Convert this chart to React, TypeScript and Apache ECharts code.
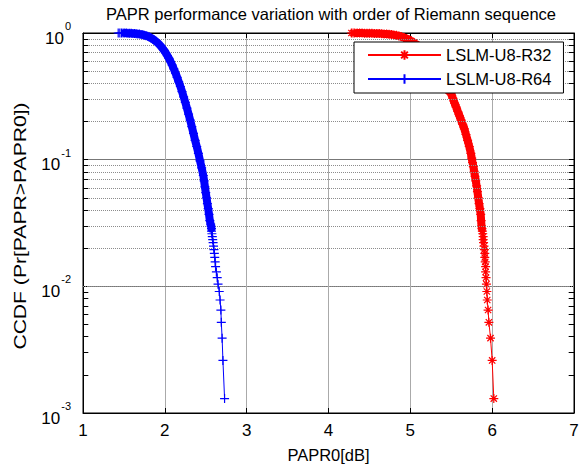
import React, { useEffect, useRef } from "react";
import * as echarts from "echarts";

// LSLM-U8-R32 (red, '*')
const r32X = [4.28, 4.3, 4.32, 4.35, 4.38, 4.41, 4.44, 4.47, 4.5, 4.53, 4.56, 4.59, 4.62, 4.65, 4.68, 4.71, 4.74, 4.77, 4.8, 4.83, 4.86, 4.89, 4.92, 4.95, 4.98, 5.01, 5.04, 5.07, 5.1, 5.13, 5.16, 5.19, 5.22, 5.25, 5.28, 5.31, 5.34, 5.37, 5.4, 5.43, 5.47, 5.5, 5.52, 5.54, 5.56, 5.58, 5.6, 5.62, 5.64, 5.66, 5.68, 5.7, 5.72, 5.74, 5.75, 5.76, 5.77, 5.78, 5.79, 5.8, 5.81, 5.82, 5.83, 5.84, 5.85, 5.86, 5.865, 5.87, 5.875, 5.88, 5.885, 5.89, 5.89, 5.895, 5.9, 5.905, 5.91, 5.91, 5.915, 5.92, 5.92, 5.925, 5.93, 5.935, 5.94, 5.95, 5.96, 5.98, 6.0, 6.02];
const r32Y = [1.0, 1.0, 0.999, 0.999, 0.998, 0.998, 0.997, 0.996, 0.995, 0.994, 0.993, 0.991, 0.989, 0.987, 0.984, 0.981, 0.977, 0.972, 0.966, 0.958, 0.948, 0.936, 0.922, 0.905, 0.886, 0.865, 0.842, 0.815, 0.785, 0.752, 0.716, 0.678, 0.638, 0.597, 0.556, 0.515, 0.475, 0.437, 0.4, 0.367, 0.35, 0.33, 0.305, 0.28, 0.26, 0.24, 0.222, 0.205, 0.19, 0.175, 0.158, 0.142, 0.127, 0.112, 0.103, 0.095, 0.088, 0.081, 0.074, 0.068, 0.062, 0.056, 0.05, 0.045, 0.041, 0.037, 0.033, 0.0299, 0.0286, 0.0273, 0.026, 0.0247, 0.0234, 0.0221, 0.0208, 0.0195, 0.0182, 0.0169, 0.0156, 0.0143, 0.013, 0.0117, 0.0104, 0.0091, 0.0078, 0.0065, 0.0052, 0.0039, 0.0026, 0.0013];

// LSLM-U8-R64 (blue, '+')
const r64X = [1.43, 1.45, 1.47, 1.49, 1.51, 1.53, 1.55, 1.57, 1.59, 1.61, 1.63, 1.65, 1.67, 1.69, 1.71, 1.73, 1.75, 1.77, 1.79, 1.81, 1.83, 1.85, 1.87, 1.89, 1.91, 1.93, 1.95, 1.97, 1.99, 2.01, 2.03, 2.05, 2.07, 2.09, 2.11, 2.13, 2.15, 2.17, 2.19, 2.21, 2.23, 2.25, 2.27, 2.29, 2.31, 2.33, 2.35, 2.37, 2.39, 2.41, 2.43, 2.45, 2.47, 2.48, 2.49, 2.5, 2.51, 2.52, 2.53, 2.54, 2.55, 2.56, 2.565, 2.57, 2.57, 2.575, 2.58, 2.585, 2.59, 2.595, 2.6, 2.605, 2.61, 2.615, 2.62, 2.63, 2.64, 2.65, 2.665, 2.675, 2.685, 2.69, 2.7, 2.71, 2.73];
const r64Y = [1.0, 1.0, 0.999, 0.999, 0.998, 0.998, 0.997, 0.996, 0.994, 0.992, 0.99, 0.987, 0.984, 0.98, 0.975, 0.969, 0.962, 0.953, 0.943, 0.93, 0.915, 0.898, 0.88, 0.86, 0.838, 0.814, 0.788, 0.76, 0.73, 0.698, 0.664, 0.63, 0.594, 0.557, 0.52, 0.483, 0.447, 0.412, 0.378, 0.345, 0.313, 0.283, 0.255, 0.229, 0.205, 0.182, 0.161, 0.142, 0.127, 0.112, 0.098, 0.086, 0.075, 0.068, 0.061, 0.055, 0.05, 0.045, 0.041, 0.037, 0.033, 0.031, 0.0299, 0.0286, 0.0273, 0.026, 0.0247, 0.0234, 0.0221, 0.0208, 0.0195, 0.0182, 0.0169, 0.0156, 0.0143, 0.013, 0.0117, 0.0104, 0.0091, 0.0078, 0.0065, 0.0052, 0.0039, 0.0026, 0.0013];

// where markers overlap into a solid band (lower CCDF bound, left x bound)
const r32DenseFrom = { x: 4.35, y: 0.028 };
const r64DenseFrom = { x: 1.5, y: 0.028 };

const xTicks = [1, 2, 3, 4, 5, 6, 7];
const yDecades = [0.001, 0.01, 0.1, 1];
const minorGridValues = [
  0.002, 0.003, 0.004, 0.005, 0.006, 0.007, 0.008, 0.009,
  0.02, 0.03, 0.04, 0.05, 0.06, 0.07, 0.08, 0.09,
  0.2, 0.3, 0.4, 0.5, 0.6, 0.7, 0.8, 0.9,
];

const titleText = "PAPR performance variation with order of Riemann sequence";
const xName = "PAPR0[dB]";
const yName = "CCDF (Pr[PAPR>PAPR0])";
const seriesNames = ["LSLM-U8-R32", "LSLM-U8-R64"];

const FONT = "Liberation Sans, Arial, sans-serif";
const PLUS = "path://M0,-5L0,5M-5,0L5,0";
const STAR = "path://M0,-5L0,5M-5,0L5,0M-3.5,-3.5L3.5,3.5M-3.5,3.5L3.5,-3.5";

export default function App() {
  const ref = useRef<HTMLDivElement>(null);
  useEffect(() => {
    if (!ref.current) return;
    const chart = echarts.init(ref.current, undefined, { renderer: "svg" });
    const pair = (xs: number[], ys: number[]) => xs.map((x, i) => [x, ys[i]]);
    const dense = (xs: number[], ys: number[], from: { x: number; y: number }) =>
      pair(xs, ys).filter(([x, y]) => x >= from.x && y >= from.y);
    const supLabel = (v: number) => {
      const e = Math.round(Math.log10(v));
      return `{b|10}{s|${e}}`;
    };
    const xMin = xTicks[0];
    const xMax = xTicks[xTicks.length - 1];
    const tickLen = 0.065; // in x units, ~5px
    const minorTicks: any[] = [];
    minorGridValues.forEach((v) => {
      minorTicks.push([{ coord: [xMin, v] }, { coord: [xMin + tickLen, v] }]);
      minorTicks.push([{ coord: [xMax - tickLen, v] }, { coord: [xMax, v] }]);
    });
    chart.setOption({
      animation: false,
      backgroundColor: "#fff",
      textStyle: { fontFamily: FONT },
      title: {
        text: titleText,
        left: 326,
        top: 0,
        textAlign: "center",
        textStyle: { fontFamily: FONT, fontSize: 16.5, fontWeight: "normal", color: "#000" },
      },
      graphic: [
        {
          type: "text",
          x: 20,
          y: 226,
          rotation: Math.PI / 2,
          scaleX: 1.28,
          style: {
            text: yName,
            fill: "#000",
            font: `16.5px ${FONT}`,
            align: "center",
            verticalAlign: "middle",
          },
        },
      ],
      grid: { left: 83, right: 13, top: 33, bottom: 49, show: true, borderColor: "#000", borderWidth: 1, backgroundColor: "#fff" },
      legend: {
        z: 20,
        left: 354,
        top: 42,
        orient: "vertical",
        itemWidth: 73,
        itemHeight: 12,
        itemGap: 6,
        padding: [4, 12, 5, 13],
        backgroundColor: "#fff",
        borderColor: "#000",
        borderWidth: 1,
        borderRadius: 0,
        data: seriesNames,
        textStyle: { fontFamily: FONT, fontSize: 16.5, color: "#000", lineHeight: 18 },
      },
      xAxis: [
        {
          type: "value",
          min: xMin,
          max: xMax,
          interval: 1,
          name: xName,
          nameLocation: "middle",
          nameGap: 33,
          nameTextStyle: { fontFamily: FONT, fontSize: 16.5, color: "#000" },
          axisLine: { show: true, lineStyle: { color: "#000", width: 1 } },
          axisTick: { show: true, inside: true, length: 5, lineStyle: { color: "#000" } },
          axisLabel: { fontFamily: FONT, fontSize: 17, color: "#000", margin: 9, formatter: (v: number) => (xTicks.includes(v) ? String(v) : "") },
          splitLine: { show: true, lineStyle: { color: "#aaa", width: 1 } },
        },
        {
          type: "value",
          min: xMin,
          max: xMax,
          interval: 1,
          position: "top",
          axisLine: { show: true, lineStyle: { color: "#000" } },
          axisTick: { show: true, inside: true, length: 5, lineStyle: { color: "#000" } },
          axisLabel: { show: false },
          splitLine: { show: false },
        },
      ],
      yAxis: [
        {
          type: "log",
          logBase: 10,
          min: yDecades[0],
          max: yDecades[yDecades.length - 1],
          axisLine: { show: true, lineStyle: { color: "#000", width: 1 } },
          axisTick: { show: true, inside: true, length: 5, lineStyle: { color: "#000" } },
          axisLabel: {
            margin: 12,
            formatter: supLabel,
            rich: {
              b: { fontFamily: FONT, fontSize: 17, color: "#000", padding: [10, 0, 0, 0] },
              s: { fontFamily: FONT, fontSize: 11, color: "#000", padding: [0, 0, 14, 1] },
            },
          },
          splitLine: { show: true, lineStyle: { color: "#777", width: 1 } },
        },
        {
          type: "log",
          logBase: 10,
          min: yDecades[0],
          max: yDecades[yDecades.length - 1],
          position: "right",
          axisLine: { show: true, lineStyle: { color: "#000" } },
          axisTick: { show: true, inside: true, length: 5, lineStyle: { color: "#000" } },
          axisLabel: { show: false },
          splitLine: { show: false },
        },
      ],
      series: [
        {
          type: "line",
          name: seriesNames[0],
          data: pair(r32X, r32Y),
          z: 4,
          symbol: STAR,
          symbolSize: 9,
          showAllSymbol: true,
          lineStyle: { color: "#ff0000", width: 1 },
          itemStyle: { color: "#ff0000", borderColor: "#ff0000", borderWidth: 1.2 },
        },
        {
          type: "line",
          name: seriesNames[1],
          data: pair(r64X, r64Y),
          z: 6,
          symbol: PLUS,
          symbolSize: 9,
          showAllSymbol: true,
          lineStyle: { color: "#0000ff", width: 1 },
          itemStyle: { color: "#0000ff", borderColor: "#0000ff", borderWidth: 1.2 },
        },
        {
          type: "line",
          name: seriesNames[0],
          data: dense(r32X, r32Y, r32DenseFrom),
          z: 3,
          silent: true,
          symbol: "none",
          lineStyle: { color: "#ff0000", width: 8, cap: "round", join: "round" },
        },
        {
          type: "line",
          name: seriesNames[1],
          data: dense(r64X, r64Y, r64DenseFrom),
          z: 5,
          silent: true,
          symbol: "none",
          lineStyle: { color: "#0000ff", width: 8, cap: "round", join: "round" },
        },
        {
          type: "line",
          name: "minor-grid",
          data: [],
          z: 1,
          silent: true,
          symbol: "none",
          markLine: {
            silent: true,
            symbol: "none",
            label: { show: false },
            lineStyle: { color: "#8c8c8c", type: [1, 1], width: 1 },
            data: minorGridValues.map((v) => ({ yAxis: v })),
          },
        },
        {
          type: "line",
          name: "minor-ticks",
          data: [],
          z: 2,
          silent: true,
          symbol: "none",
          markLine: {
            silent: true,
            symbol: "none",
            label: { show: false },
            lineStyle: { color: "#000", type: "solid", width: 1 },
            data: minorTicks,
          },
        },
      ],
    });
    return () => chart.dispose();
  }, []);
  return <div ref={ref} style={{ width: 587, height: 468, position: "absolute", left: 0, top: 0 }} />;
}
